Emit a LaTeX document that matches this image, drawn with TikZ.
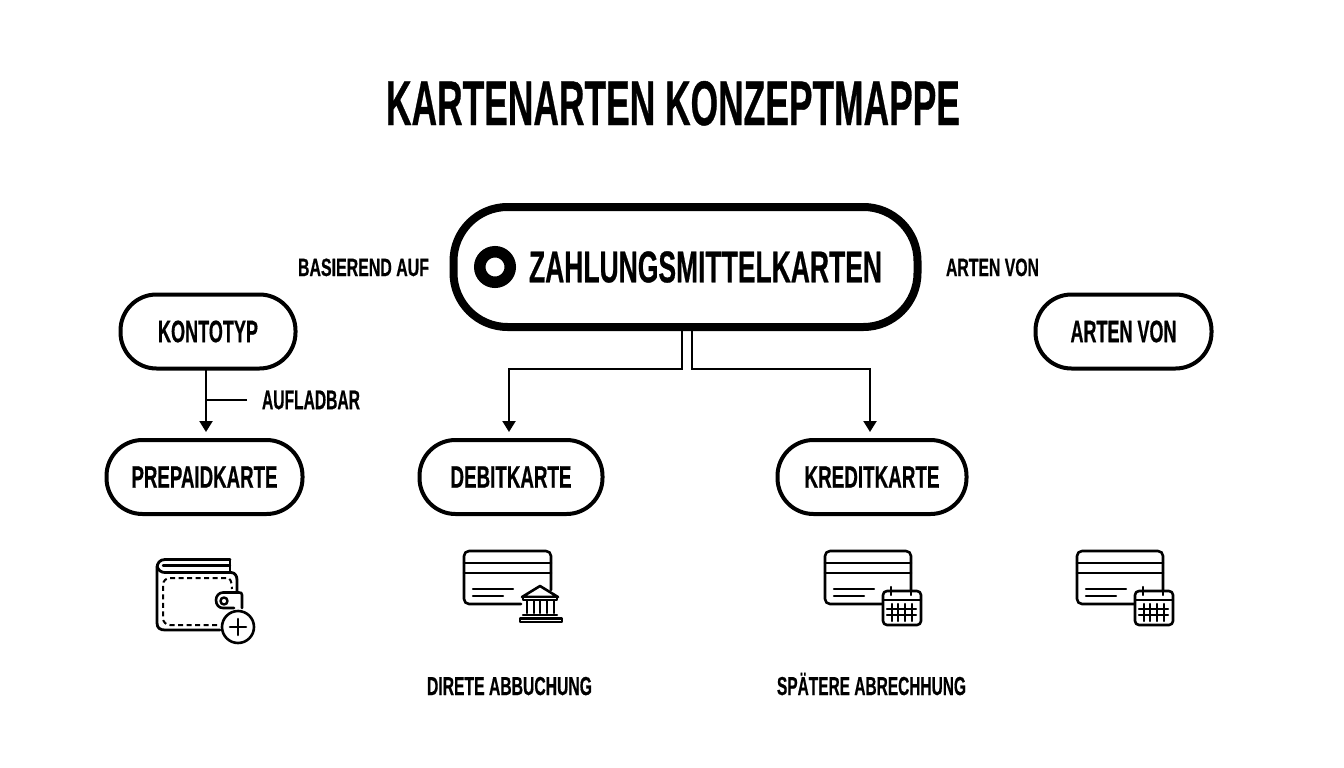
\documentclass[tikz,border=0pt]{standalone}
\usepackage{fontspec}
\usepackage{graphicx}
\usetikzlibrary{arrows.meta}
\newfontfamily\labelfont[FakeBold=0.7]{Liberation Sans Bold}
% fitted label: width, font size, text
\newcommand{\fittext}[3]{\resizebox{#1pt}{\height}{\fontsize{#2pt}{#2pt}\labelfont #3}}
\tikzset{
  pill/.style={draw=black,fill=white,rectangle,line width=4pt,rounded corners=36pt,outer sep=0pt,inner sep=0pt,minimum height=73pt,align=center},
  mainpill/.style={pill,line width=8pt,rounded corners=54pt,minimum width=464pt,minimum height=120pt},
  capt/.style={inner sep=0pt,outer sep=0pt,anchor=base},
  conn/.style={draw=black,line width=2.2pt},
  arrowconn/.style={conn,-{Triangle[width=13pt,length=11pt]}},
  ico/.style={draw=black,line width=2.4pt,line cap=round,line join=round},
  icothin/.style={ico,line width=2.2pt},
}
% card outline with text lines; local origin = top-left of card
\newcommand{\cardicon}[3]{%
  \draw[ico,line width=2.6pt] ([shift={(#1,#2)}]0,0) ++(#3,38) -- ++(0,-34) arc[start angle=0,end angle=-90,x radius=5,y radius=5] -- ++(-#3+10,0) arc[start angle=-90,end angle=-180,x radius=5,y radius=5] -- ++(0,43) arc[start angle=180,end angle=90,x radius=5,y radius=5] -- ++(52,0);
  \draw[ico,line width=2.6pt] (#1,#2+11) -- ++(#3,0) (#1,#2+21) -- ++(#3,0);
  \draw[ico] (#1+9,#2+37) -- ++(40,0) (#1+9,#2+44) -- ++(30,0);
}
\newcommand{\calicon}[2]{%
  \draw[ico,fill=white,rounded corners=4pt,line width=2.6pt] (#1,#2) rectangle ++(38,34);
  \draw[ico] (#1,#2+9) -- ++(38,0);
  \draw[ico] (#1+8,#2-4) -- ++(0,8) (#1+28,#2-4) -- ++(0,8);
  \draw[icothin] (#1+9,#2+13) -- ++(0,17) (#1+15,#2+13) -- ++(0,17) (#1+22,#2+13) -- ++(0,17) (#1+29,#2+13) -- ++(0,17);
  \draw[icothin] (#1+4,#2+18) -- ++(29,0) (#1+4,#2+24) -- ++(29,0);
}
\begin{document}
\begin{tikzpicture}[x=1pt,y=-1pt]
\path[use as bounding box,fill=white] (0,0) rectangle (1344,768);
\node[capt] (title) at (673,125) {\fittext{574}{63}{KARTENARTEN KONZEPTMAPPE}};

\node[mainpill] (main) at (685.5,267) {\hspace*{40pt}\fittext{353}{44.5}{ZAHLUNGSMITTELKARTEN}};
\node[circle,draw=black,line width=11.5pt,minimum size=30.5pt,inner sep=0pt,outer sep=0pt] (ring) at (495,267) {};

\node[capt] (basis) at (363.5,276) {\fittext{131}{25}{BASIEREND AUF}};
\node[capt] (artenlabel) at (992.5,276) {\fittext{93}{25}{ARTEN VON}};

\node[pill,minimum width=175pt,minimum height=74pt] (konto) at (208,331.5) {\fittext{100}{31}{KONTOTYP}};
\node[pill,minimum width=176pt,minimum height=74pt] (arten) at (1123.5,331.5) {\fittext{106}{31}{ARTEN VON}};
\node[pill,minimum width=196pt,minimum height=74pt] (prepaid) at (204.5,477) {\fittext{146}{31}{PREPAIDKARTE}};
\node[pill,minimum width=183pt,minimum height=74pt] (debit) at (511,477) {\fittext{121}{31}{DEBITKARTE}};
\node[pill,minimum width=189pt,minimum height=74pt] (kredit) at (872,477) {\fittext{135}{31}{KREDITKARTE}};

\node[capt,anchor=west] (aufl) at (262,400) {\fittext{98}{27}{AUFLADBAR}};
\node[capt] (direkt) at (509.5,695) {\fittext{165}{26}{DIRETE ABBUCHUNG}};
\node[capt] (spaeter) at (871.5,695) {\fittext{189}{26}{SPÄTERE ABRECHHUNG}};

% connectors
\draw[arrowconn] ([xshift=-3.5pt]main.south) -- ++(0,42) -| ([xshift=-2pt,yshift=8pt]debit.north);
\draw[arrowconn] ([xshift=6.5pt]main.south) -- ++(0,42) -| ([xshift=-2pt,yshift=8pt]kredit.north);
\draw[arrowconn] ([xshift=-2pt]konto.south) -- ([xshift=1.5pt,yshift=8pt]prepaid.north);
\coordinate (auflend) at ([xshift=-15pt]aufl.west);
\draw[conn] (auflend) -- (auflend -| 206,0);

% wallet
\draw[ico,line width=2.8pt] (230,559.5) -- (165,559.5) .. controls (160,559.5) and (157,563) .. (157,568) -- (157,623) .. controls (157,628) and (160,630) .. (165,630) -- (220,630);
\draw[ico] (163,565.5) -- (230,565.5) (230,559.5) -- (230,572);
\draw[ico,line width=2.8pt] (157,566) .. controls (158,570) and (161,572.5) .. (165,572.5) -- (231,572.5) .. controls (235,572.5) and (237,576) .. (237,580) -- (237,592);
\draw[ico,dash pattern=on 5pt off 3.5pt,line cap=butt,line width=2pt] (217,625) -- (170,625) .. controls (166,625) and (163,622) .. (163,618) -- (163,585) .. controls (163,581) and (166,578) .. (170,578) -- (227,578) .. controls (230,578) and (232,581) .. (232,589);
\draw[ico,line width=2.6pt] (242,608) -- (242,595) .. controls (242,593) and (241,592.5) .. (239,592.5) -- (223,592.5) .. controls (219,592.5) and (216,596) .. (216,600) .. controls (216,605) and (219,608) .. (223,608) -- (234,608);
\draw[ico] (224,601) circle[radius=3.5];
\draw[ico,fill=white,line width=2.6pt] (238,627) circle[radius=16];
\draw[ico,line width=2.6pt] (230,627) -- (246,627) (238,619) -- (238,635);

% bank card
\cardicon{464}{552}{87}
\draw[ico,fill=white,line join=round,line width=2.6pt] (522,597) -- (540,586) -- (558,597) -- cycle;
\draw[ico,fill=white] (523,597) rectangle (557,600);
\draw[ico] (527,601) -- (527,613) (534,601) -- (534,613) (540,601) -- (540,613) (547,601) -- (547,613) (554,601) -- (554,613);
\draw[ico] (523,615) -- (557,615);
\draw[ico] (520,618.5) rectangle (562,622);

% credit cards with calendar
\cardicon{825}{552}{86}
\calicon{883}{591}
\cardicon{1077}{552}{86}
\calicon{1135}{591}
\end{tikzpicture}
\end{document}
